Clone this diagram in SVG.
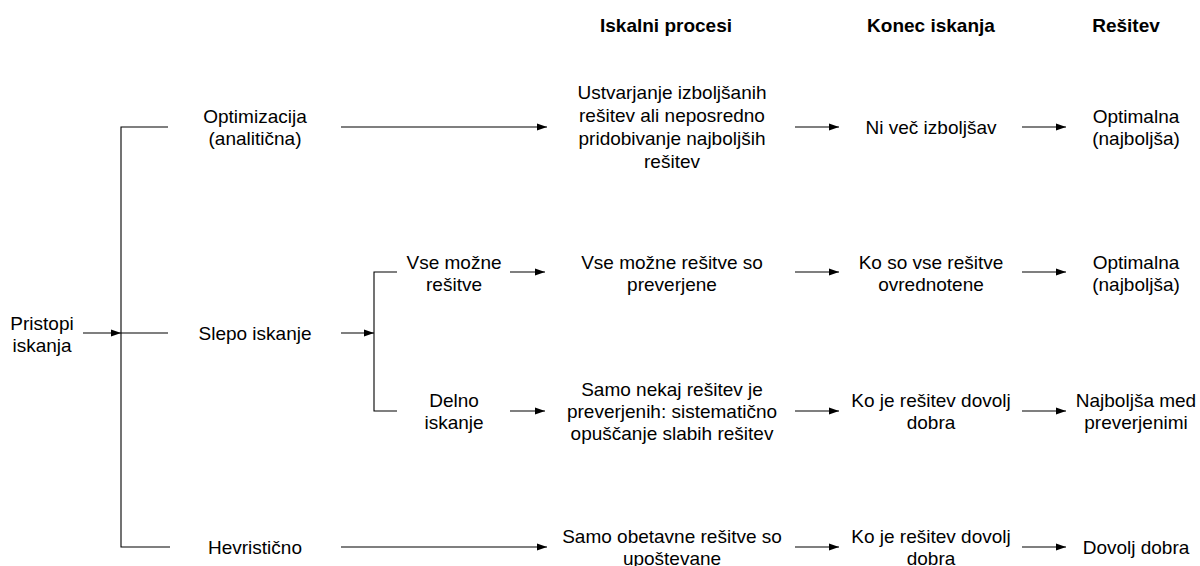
<svg xmlns="http://www.w3.org/2000/svg" width="1200" height="566" viewBox="0 0 1200 566">
<defs>
<marker id="ah" markerWidth="10" markerHeight="8" refX="10" refY="4" orient="auto" markerUnits="userSpaceOnUse">
<path d="M0,0.5 L10,4 L0,7.5 Z" fill="#000"/>
</marker>
<style>
text{font-family:"Liberation Sans",Arial,sans-serif;font-size:19px;fill:#000;text-anchor:middle;dominant-baseline:central}
.h{font-weight:bold}
.ln{stroke:#000;stroke-width:1.1;fill:none}
.ar{stroke:#000;stroke-width:1.1;fill:none;marker-end:url(#ah)}
</style>
</defs>
<rect width="1200" height="566" fill="#fff"/>
<g id="headers">
<text class="h" x="666" y="25">Iskalni procesi</text>
<text class="h" x="931" y="25">Konec iskanja</text>
<text class="h" x="1126" y="25">Rešitev</text>
</g>
<g id="connectors">
<path class="ar" d="M83,333 H121"/>
<path class="ln" d="M168,127 H121 V547 H170"/>
<path class="ln" d="M121,333 H168"/>
<path class="ar" d="M341,127 H547"/>
<path class="ar" d="M341,333 H374"/>
<path class="ln" d="M397,272 H374 V411 H397"/>
<path class="ar" d="M510,272 H545"/>
<path class="ar" d="M510,411 H545"/>
<path class="ar" d="M341,547 H547"/>
<path class="ar" d="M795,127 H839"/>
<path class="ar" d="M795,272 H839"/>
<path class="ar" d="M795,411 H839"/>
<path class="ar" d="M795,547 H839"/>
<path class="ar" d="M1022,127 H1066"/>
<path class="ar" d="M1022,272 H1066"/>
<path class="ar" d="M1022,411 H1066"/>
<path class="ar" d="M1022,547 H1066"/>
</g>
<g id="root"><text x="42" y="323">Pristopi</text><text x="42" y="345">iskanja</text></g>
<g id="opt"><text x="255" y="116">Optimizacija</text><text x="255" y="138">(analitična)</text></g>
<g id="slepo"><text x="255" y="333">Slepo iskanje</text></g>
<g id="hevr"><text x="255" y="547">Hevristično</text></g>
<g id="vse"><text x="454" y="262">Vse možne</text><text x="454" y="284">rešitve</text></g>
<g id="delno"><text x="454" y="400">Delno</text><text x="454" y="422">iskanje</text></g>
<g id="p1"><text x="672" y="92">Ustvarjanje izboljšanih</text><text x="672" y="115">rešitev ali neposredno</text><text x="672" y="138">pridobivanje najboljših</text><text x="672" y="161">rešitev</text></g>
<g id="p2"><text x="672" y="262">Vse možne rešitve so</text><text x="672" y="284">preverjene</text></g>
<g id="p3"><text x="672" y="389">Samo nekaj rešitev je</text><text x="672" y="411">preverjenih: sistematično</text><text x="672" y="433">opuščanje slabih rešitev</text></g>
<g id="p4"><text x="672" y="536">Samo obetavne rešitve so</text><text x="672" y="558">upoštevane</text></g>
<g id="k1"><text x="931" y="127">Ni več izboljšav</text></g>
<g id="k2"><text x="931" y="262">Ko so vse rešitve</text><text x="931" y="284">ovrednotene</text></g>
<g id="k3"><text x="931" y="400">Ko je rešitev dovolj</text><text x="931" y="422">dobra</text></g>
<g id="k4"><text x="931" y="536">Ko je rešitev dovolj</text><text x="931" y="558">dobra</text></g>
<g id="r1"><text x="1136" y="116">Optimalna</text><text x="1136" y="138">(najboljša)</text></g>
<g id="r2"><text x="1136" y="262">Optimalna</text><text x="1136" y="284">(najboljša)</text></g>
<g id="r3"><text x="1136" y="400">Najboljša med</text><text x="1136" y="422">preverjenimi</text></g>
<g id="r4"><text x="1136" y="547">Dovolj dobra</text></g>
</svg>
